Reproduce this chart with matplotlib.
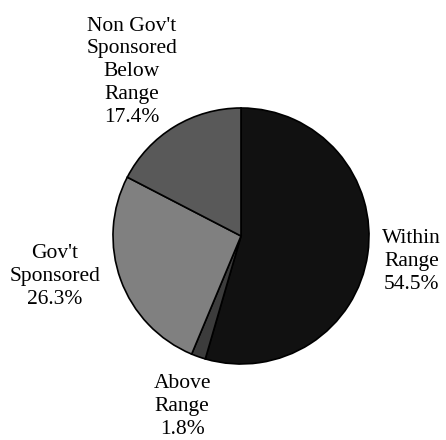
import numpy as np
import matplotlib
matplotlib.use('Agg')
import matplotlib.pyplot as plt

plt.rcParams['font.family'] = ['Liberation Serif', 'DejaVu Serif']

categories = ["Within\nRange", "Above\nRange", "Gov't\nSponsored", "Non Gov't\nSponsored\nBelow\nRange"]
shares = [54.5, 1.8, 26.3, 17.4]
colors = ['#111111', '#3c3c3c', '#808080', '#595959']
# label placement: distance from centre (in radii) and angle nudge (deg)
label_dist = [1.35, 1.41, 1.49, 1.54]
label_nudge = [-0.5, 0.4, -7.7, 2.3]

W, H = 446, 440
fig = plt.figure(figsize=(W / 100, H / 100), dpi=100)
cx, cy, r = 241, 236, 128
ax = fig.add_axes([(cx - r) / W, 1 - (cy + r) / H, 2 * r / W, 2 * r / H])

wedges, _ = ax.pie(shares, colors=colors, startangle=90, counterclock=False,
                   radius=1.0, wedgeprops=dict(edgecolor='black', linewidth=1.2))
ax.set_xlim(-1, 1)
ax.set_ylim(-1, 1)
ax.set_aspect('equal')
ax.axis('off')

# labels sit outside each wedge, near its middle angle
for w, name, val, d, nd in zip(wedges, categories, shares, label_dist, label_nudge):
    ang = np.deg2rad((w.theta1 + w.theta2) / 2 + nd)
    ax.text(d * np.cos(ang), d * np.sin(ang), f"{name}\n{val:.1f}%",
            ha='center', va='center', fontsize=15.5, linespacing=1.28,
            clip_on=False)

fig.savefig('out.png', dpi=100)
